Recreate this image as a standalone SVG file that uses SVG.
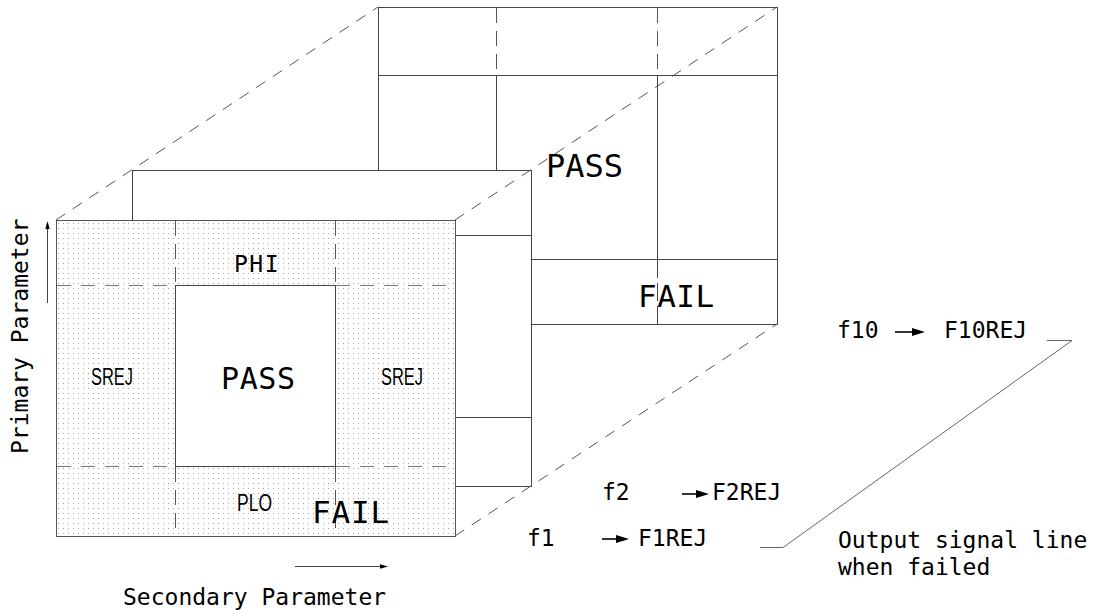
<svg xmlns="http://www.w3.org/2000/svg" width="1095" height="613" viewBox="0 0 1095 613">
<defs>
<pattern id="dots" x="3" y="3" width="5" height="5" patternUnits="userSpaceOnUse"><rect width="1" height="1" fill="#a6a6a6"/></pattern>
</defs>
<style>
.ln{stroke:#444;stroke-width:1;fill:none}
.box{stroke:#444;stroke-width:1;fill:#fff}
.dotbox{stroke:#555;stroke-width:1;fill:url(#dots)}
.dv{stroke:#555;stroke-width:1;fill:none;stroke-dasharray:15 8}
.dh{stroke:#777;stroke-width:1;fill:none;stroke-dasharray:14 10}
.dg{stroke:#555;stroke-width:1;fill:none;stroke-dasharray:11 9}
.mono{font-family:"DejaVu Sans Mono","Liberation Mono",monospace;fill:#000}
.t{font-size:23px}
.big{font-size:31px}
.cond{font-family:"Liberation Sans",Arial,sans-serif;font-size:23px;fill:#000}
.ah{fill:#000;stroke:none}
</style>
<rect width="1095" height="613" fill="#fff"/>

<g id="panel-back">
<rect x="378.5" y="7.5" width="399" height="317" class="box"/>
<line x1="378" y1="75.5" x2="777" y2="75.5" class="ln"/>
<line x1="378" y1="259.5" x2="777" y2="259.5" class="ln"/>
<line x1="496.5" y1="8" x2="496.5" y2="75" class="dv"/>
<line x1="496.5" y1="75" x2="496.5" y2="324" class="ln"/>
<line x1="657.5" y1="8" x2="657.5" y2="75" class="dv"/>
<line x1="657.5" y1="75" x2="657.5" y2="259" class="ln"/>
<line x1="657.5" y1="260" x2="657.5" y2="324" class="ln" stroke-dasharray="18 5"/>
<text x="546" y="177" class="mono" font-size="32px">PASS</text>
<text x="638" y="307" class="mono big" letter-spacing="0.5">FAIL</text>
</g>

<g id="panel-middle">
<rect x="132.5" y="170.5" width="399" height="316" class="box"/>
<line x1="132" y1="235.5" x2="531" y2="235.5" class="ln"/>
<line x1="132" y1="417.5" x2="531" y2="417.5" class="ln"/>
</g>

<g id="panel-front">
<rect x="56.5" y="220.5" width="399" height="316" fill="#fff"/>
<rect x="56.5" y="220.5" width="399" height="316" class="dotbox"/>
<rect x="175.5" y="285.5" width="160" height="181" class="box"/>
<line x1="175.5" y1="221" x2="175.5" y2="285" class="dv"/>
<line x1="335.5" y1="221" x2="335.5" y2="285" class="dv"/>
<line x1="175.5" y1="467" x2="175.5" y2="536" class="dv"/>
<line x1="335.5" y1="467" x2="335.5" y2="536" class="dv"/>
<line x1="57" y1="285.5" x2="175" y2="285.5" class="dh"/>
<line x1="336" y1="285.5" x2="455" y2="285.5" class="dh"/>
<line x1="57" y1="466.5" x2="175" y2="466.5" class="dh"/>
<line x1="336" y1="466.5" x2="455" y2="466.5" class="dh"/>
<text x="234" y="272" class="mono t" letter-spacing="1.5">PHI</text>
<text x="91" y="385" class="cond" textLength="42" lengthAdjust="spacingAndGlyphs">SREJ</text>
<text x="381" y="385" class="cond" textLength="42" lengthAdjust="spacingAndGlyphs">SREJ</text>
<text x="221" y="389" class="mono" font-size="30px" letter-spacing="0.6">PASS</text>
<text x="237" y="511" class="cond" font-size="24px" textLength="35" lengthAdjust="spacingAndGlyphs">PLO</text>
<text x="312" y="523" class="mono big" letter-spacing="0.8">FAIL</text>
</g>

<g id="connectors">
<line x1="56" y1="220" x2="378" y2="7" class="dg"/>
<line x1="455" y1="220" x2="777" y2="7" class="dg"/>
<line x1="455" y1="536" x2="777" y2="324" class="dg"/>
<polyline points="1047,340.5 1072,340.5 783,547.5 760,547.5" fill="none" stroke="#666" stroke-width="1"/>
<line x1="47.5" y1="303" x2="47.5" y2="226" class="ln"/>
<polygon points="47.5,221 45.3,229 49.7,229" class="ah"/>
<line x1="295" y1="566.5" x2="381" y2="566.5" class="ln"/>
<polygon points="388,566.5 380,564.3 380,568.7" class="ah"/>
<line x1="895" y1="332" x2="913" y2="332" stroke="#000" stroke-width="1.6"/>
<polygon points="925,332 912,328 912,336" class="ah"/>
<line x1="682" y1="494" x2="697" y2="494" stroke="#000" stroke-width="1.6"/>
<polygon points="709,494 696,490 696,498" class="ah"/>
<line x1="602" y1="539" x2="617" y2="539" stroke="#000" stroke-width="1.6"/>
<polygon points="629,539 616,535 616,543" class="ah"/>
</g>

<g id="labels">
<text class="mono t" transform="translate(28,453) rotate(-90)" x="-1" y="0">Primary Parameter</text>
<text x="123" y="605" class="mono t">Secondary Parameter</text>
<text x="837" y="338" class="mono t">f10</text>
<text x="944" y="338" class="mono t">F10REJ</text>
<text x="602" y="500" class="mono t">f2</text>
<text x="712" y="500" class="mono t">F2REJ</text>
<text x="527" y="546" class="mono t">f1</text>
<text x="638" y="546" class="mono t">F1REJ</text>
<text x="838" y="548" class="mono t">Output signal line</text>
<text x="838" y="575" class="mono t">when failed</text>
</g>
</svg>
